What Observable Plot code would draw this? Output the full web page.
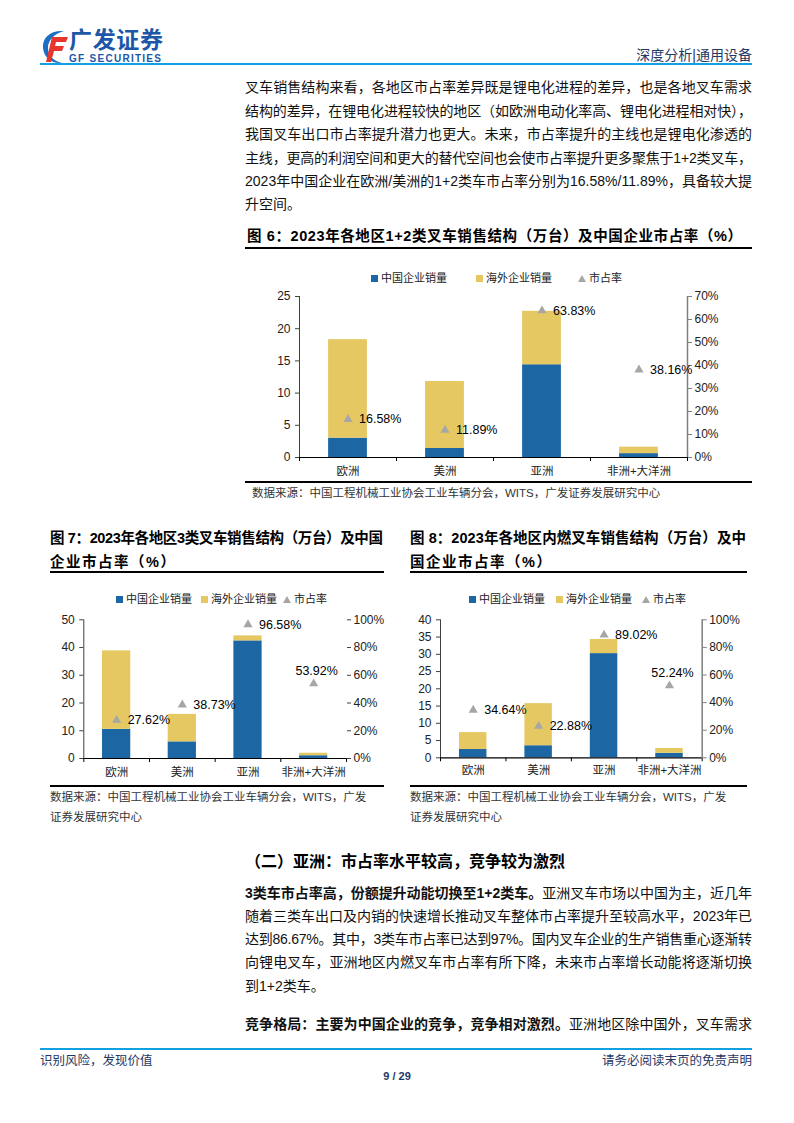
<!DOCTYPE html>
<html><head><meta charset="utf-8">
<script src="https://cdn.jsdelivr.net/npm/d3@7"></script>
<script src="https://cdn.jsdelivr.net/npm/@observablehq/plot@0.6"></script>
<style>
body{margin:0;background:#fff}
#page{position:relative;width:794px;height:1123px;overflow:hidden;background:#fff;font-family:"Liberation Sans","Noto Sans CJK SC",sans-serif;color:#111}
.abs{position:absolute;white-space:nowrap}
.ln{position:absolute;left:245px;height:23px;line-height:23px;font-size:14px;color:#111;white-space:nowrap}
.title{position:absolute;font-size:14.5px;font-weight:bold;height:22px;line-height:22px;color:#000;white-space:nowrap}
.rule{position:absolute;height:1.5px;background:#000}
.src{position:absolute;font-size:11.5px;color:#333;white-space:nowrap;height:18px;line-height:18px}
.leg{position:absolute;font-size:11px;color:#222;height:14px;line-height:14px;white-space:nowrap}
.sq{display:inline-block;width:7px;height:7px;margin-right:3px;vertical-align:0px}
.tri{display:inline-block;width:0;height:0;border-left:4px solid transparent;border-right:4px solid transparent;border-bottom:7px solid #a6a6a6;margin-right:3px;vertical-align:0px}
.chart{position:absolute}
.chart svg{position:absolute;left:0;top:0;overflow:visible}
</style>
</head><body>
<div id="page">
  <!-- header -->
  <svg class="abs" style="left:40px;top:28px" width="30" height="38" viewBox="0 0 30 38">
    <path d="M24 3 C10 2 2 10 3 20 C4 30 12 36 22 35 C13 33 8 27 8 20 C8 12 14 6 24 3 Z" fill="#1a6fc4"/>
    <path d="M12 9 L28 9 L26 14 L16 14 L15 18 L24 18 L22 23 L14 23 L11 34 L6 34 Z" fill="#e8362c"/>
  </svg>
  <div class="abs" data-w="94" style="left:69px;top:26px;font-size:23px;font-weight:bold;color:#1d58a8;line-height:28px">广发证券</div>
  <div class="abs" data-w="92" style="left:69px;top:53px;font-size:10px;font-weight:bold;color:#1d58a8;line-height:11px">GF SECURITIES</div>
  <div class="abs" style="right:42px;top:45px;font-size:14px;color:#1f3864;line-height:20px">深度分析|通用设备</div>
  <div class="abs" style="left:40px;top:63px;width:712px;height:2px;background:#11a0e0"></div>

  <!-- paragraph 1 -->
  <div class="ln" data-w="507" style="top:76px">叉车销售结构来看，各地区市占率差异既是锂电化进程的差异，也是各地叉车需求</div>
  <div class="ln" data-w="507" style="top:99.5px">结构的差异，在锂电化进程较快的地区（如欧洲电动化率高、锂电化进程相对快），</div>
  <div class="ln" data-w="507" style="top:123px">我国叉车出口市占率提升潜力也更大。未来，市占率提升的主线也是锂电化渗透的</div>
  <div class="ln" data-w="507" style="top:146.5px">主线，更高的利润空间和更大的替代空间也会使市占率提升更多聚焦于1+2类叉车，</div>
  <div class="ln" data-w="507" style="top:170px">2023年中国企业在欧洲/美洲的1+2类车市占率分别为16.58%/11.89%，具备较大提</div>
  <div class="ln" style="top:193px">升空间。</div>

  <!-- figure 6 -->
  <div class="title" data-w="495" style="left:247px;top:225px">图 6：2023年各地区1+2类叉车销售结构（万台）及中国企业市占率（%）</div>
  <div class="rule" style="left:245px;top:247px;width:507px"></div>
  <div class="leg" style="left:371px;top:271px"><span class="sq" style="background:#1c67a3"></span>中国企业销量</div>
  <div class="leg" style="left:476px;top:271px"><span class="sq" style="background:#e5c862"></span>海外企业销量</div>
  <div class="leg" style="left:578px;top:271px"><span class="tri"></span>市占率</div>
  <div id="fig6" class="chart" style="left:245px;top:285px;width:520px;height:200px"></div>
  <div class="rule" style="left:245px;top:481px;width:507px"></div>
  <div class="src" style="left:252px;top:484px">数据来源：中国工程机械工业协会工业车辆分会，WITS，广发证券发展研究中心</div>

  <!-- figure 7 -->
  <div class="title" data-w="333" style="left:50px;top:527px">图 7：2023年各地区3类叉车销售结构（万台）及中国</div>
  <div class="title" style="left:50px;top:551px;letter-spacing:1.5px">企业市占率（%）</div>
  <div class="rule" style="left:50px;top:571px;width:334px"></div>
  <div class="leg" style="left:116px;top:592px"><span class="sq" style="background:#1c67a3"></span>中国企业销量</div>
  <div class="leg" style="left:201px;top:592px"><span class="sq" style="background:#e5c862"></span>海外企业销量</div>
  <div class="leg" style="left:283px;top:592px"><span class="tri"></span>市占率</div>
  <div id="fig7" class="chart" style="left:45px;top:605px;width:350px;height:180px"></div>
  <div class="rule" style="left:50px;top:785px;width:334px"></div>
  <div class="src" style="left:50px;top:788px">数据来源：中国工程机械工业协会工业车辆分会，WITS，广发</div>
  <div class="src" style="left:50px;top:808px">证券发展研究中心</div>

  <!-- figure 8 -->
  <div class="title" data-w="336" style="left:410px;top:527px">图 8：2023年各地区内燃叉车销售结构（万台）及中</div>
  <div class="title" style="left:410px;top:551px;letter-spacing:1.5px">国企业市占率（%）</div>
  <div class="rule" style="left:410px;top:571px;width:337px"></div>
  <div class="leg" style="left:469px;top:592px"><span class="sq" style="background:#1c67a3"></span>中国企业销量</div>
  <div class="leg" style="left:556px;top:592px"><span class="sq" style="background:#e5c862"></span>海外企业销量</div>
  <div class="leg" style="left:642px;top:592px"><span class="tri"></span>市占率</div>
  <div id="fig8" class="chart" style="left:405px;top:605px;width:350px;height:180px"></div>
  <div class="rule" style="left:410px;top:785px;width:337px"></div>
  <div class="src" style="left:410px;top:788px">数据来源：中国工程机械工业协会工业车辆分会，WITS，广发</div>
  <div class="src" style="left:410px;top:808px">证券发展研究中心</div>

  <!-- section 2 -->
  <div class="abs" style="left:245px;top:850px;font-size:16px;font-weight:bold;line-height:24px;color:#000">（二）亚洲：市占率水平较高，竞争较为激烈</div>
  <div class="ln" data-w="507" style="top:881.5px"><b>3类车市占率高，份额提升动能切换至1+2类车。</b>亚洲叉车市场以中国为主，近几年</div>
  <div class="ln" data-w="507" style="top:904.5px">随着三类车出口及内销的快速增长推动叉车整体市占率提升至较高水平，2023年已</div>
  <div class="ln" data-w="507" style="top:927.5px">达到86.67%。其中，3类车市占率已达到97%。国内叉车企业的生产销售重心逐渐转</div>
  <div class="ln" data-w="507" style="top:951px">向锂电叉车，亚洲地区内燃叉车市占率有所下降，未来市占率增长动能将逐渐切换</div>
  <div class="ln" style="top:974.5px">到1+2类车。</div>
  <div class="ln" data-w="507" style="top:1012.5px"><b>竞争格局：主要为中国企业的竞争，竞争相对激烈。</b>亚洲地区除中国外，叉车需求</div>

  <!-- footer -->
  <div class="abs" style="left:40px;top:1048px;width:712px;height:2px;background:#11a0e0"></div>
  <div class="abs" style="left:40px;top:1052px;font-size:12.5px;color:#1f3864;line-height:18px">识别风险，发现价值</div>
  <div class="abs" style="right:42px;top:1052px;font-size:12.5px;color:#1f3864;line-height:18px">请务必阅读末页的免责声明</div>
  <div class="abs" style="left:0;width:794px;text-align:center;top:1068px;font-size:11px;font-weight:bold;color:#1f3864;line-height:16px">9 / 29</div>
</div>
<script>
// ---------- data ----------
const regions = ["欧洲", "美洲", "亚洲", "非洲+大洋洲"];
const seriesNames = ["中国企业销量", "海外企业销量", "市占率"];

// Figure 6: 1+2类叉车 (万台), share (%)
const f6China    = [3.0, 1.4, 14.4, 0.6];
const f6Overseas = [15.3, 10.4, 8.3, 1.0];
const f6Share    = [16.58, 11.89, 63.83, 38.16];
const f6LeftTicks  = [0, 5, 10, 15, 20, 25];
const f6RightTicks = [0, 10, 20, 30, 40, 50, 60, 70];

// Figure 7: 3类叉车
const f7China    = [10.5, 6.0, 42.4, 1.0];
const f7Overseas = [28.3, 9.9, 1.8, 0.9];
const f7Share    = [27.62, 38.73, 96.58, 53.92];
const f7LeftTicks  = [0, 10, 20, 30, 40, 50];
const f7RightTicks = [0, 20, 40, 60, 80, 100];

// Figure 8: 内燃叉车
const f8China    = [2.4, 3.5, 30.2, 1.3];
const f8Overseas = [4.9, 12.2, 4.1, 1.4];
const f8Share    = [34.64, 22.88, 89.02, 52.24];
const f8LeftTicks  = [0, 5, 10, 15, 20, 25, 30, 35, 40];
const f8RightTicks = [0, 20, 40, 60, 80, 100];

const BLUE = "#1c67a3", YELLOW = "#e5c862", GREY = "#a6a6a6";

// justify single lines to a target width by letter-spacing
document.querySelectorAll("[data-w]").forEach(el => {
  const target = +el.dataset.w;
  el.style.letterSpacing = "0px";
  const w = el.getBoundingClientRect().width;
  const n = [...el.textContent].length;
  const ls = (target - w) / Math.max(1, n - 1);
  el.style.letterSpacing = ls.toFixed(3) + "px";
});

function makeChart(cfg) {
  const el = document.getElementById(cfg.id);
  const n = regions.length;
  const bars = regions.flatMap((r, i) => [
    {i, s: seriesNames[0], y1: 0, y2: cfg.china[i]},
    {i, s: seriesNames[1], y1: cfg.china[i], y2: cfg.china[i] + cfg.overseas[i]}
  ]);
  const shares = regions.map((r, i) => ({i, r, v: cfg.share[i]}));
  const common = {
    width: cfg.width, height: cfg.height,
    marginLeft: cfg.ml, marginRight: cfg.mr, marginTop: cfg.mt, marginBottom: cfg.mb,
    x: {domain: [0, n], axis: null},
    style: {fontFamily: '"Liberation Sans","Noto Sans CJK SC",sans-serif', fontSize: "12px", color: "#222", background: "transparent", overflow: "visible"}
  };
  const half = cfg.bw / 2;
  const left = Plot.plot({
    ...common,
    y: {domain: [cfg.leftTicks[0], cfg.leftTicks[cfg.leftTicks.length - 1]], axis: null},
    color: {domain: seriesNames.slice(0, 2), range: [BLUE, YELLOW]},
    marks: [
      Plot.rect(bars, {x1: d => d.i + 0.5 - half, x2: d => d.i + 0.5 + half, y1: "y1", y2: "y2", fill: "s"}),
      Plot.axisY({ticks: cfg.leftTicks, tickSize: 4, tickPadding: 5, fontSize: 12, stroke: "#404040", label: null}),
      Plot.ruleX([0], {stroke: "#404040", strokeWidth: 1}),
      Plot.ruleY([0], {stroke: "#000", strokeWidth: 1.2}),
      Plot.axisX({ticks: d3.range(n + 1), tickSize: 4, tickFormat: () => "", stroke: "#000", label: null}),
      Plot.axisX({ticks: regions.map((r, i) => i + 0.5), tickSize: 0, tickPadding: cfg.lp, tickFormat: d => regions[Math.floor(d)], fontSize: 11.5, fill: "#222", label: null})
    ]
  });
  const right = Plot.plot({
    ...common,
    y: {domain: [cfg.rightTicks[0], cfg.rightTicks[cfg.rightTicks.length - 1]], axis: null},
    marks: [
      Plot.axisY({anchor: "right", ticks: cfg.rightTicks, tickFormat: d => d + "%", tickSize: 4, tickPadding: 3, fontSize: 12, stroke: cfg.rightLine ? "#7f7f7f" : "#404040", label: null}),
      cfg.rightLine ? Plot.ruleX([n], {stroke: "#7f7f7f", strokeWidth: 1.5}) : null,
      Plot.dot(shares, {x: d => d.i + 0.5, y: "v", symbol: "triangle", r: 3.4, fill: GREY}),
      Plot.text(shares.filter(d => !cfg.above.includes(d.i)), {x: d => d.i + 0.5, y: "v", text: d => d.v.toFixed(2) + "%", dx: 11, textAnchor: "start", fontSize: 12.5, fill: "#000"}),
      Plot.text(shares.filter(d => cfg.above.includes(d.i)), {x: d => d.i + 0.5, y: "v", text: d => d.v.toFixed(2) + "%", dy: -13, dx: 3, textAnchor: "middle", fontSize: 12.5, fill: "#000"})
    ]
  });
  el.appendChild(left);
  el.appendChild(right);
}

makeChart({id: "fig6", width: 520, height: 200, ml: 54, mr: 78, mt: 11, mb: 28, lp: 9,
  china: f6China, overseas: f6Overseas, share: f6Share, leftTicks: f6LeftTicks, rightTicks: f6RightTicks,
  bw: 0.4, rightLine: true, above: []});
makeChart({id: "fig7", width: 350, height: 180, ml: 38.3, mr: 49, mt: 14.3, mb: 27, lp: 9,
  china: f7China, overseas: f7Overseas, share: f7Share, leftTicks: f7LeftTicks, rightTicks: f7RightTicks,
  bw: 0.43, rightLine: false, above: [3]});
makeChart({id: "fig8", width: 350, height: 180, ml: 35, mr: 53.3, mt: 14.3, mb: 27.7, lp: 8,
  china: f8China, overseas: f8Overseas, share: f8Share, leftTicks: f8LeftTicks, rightTicks: f8RightTicks,
  bw: 0.42, rightLine: true, above: [3]});
</script>
</body></html>
